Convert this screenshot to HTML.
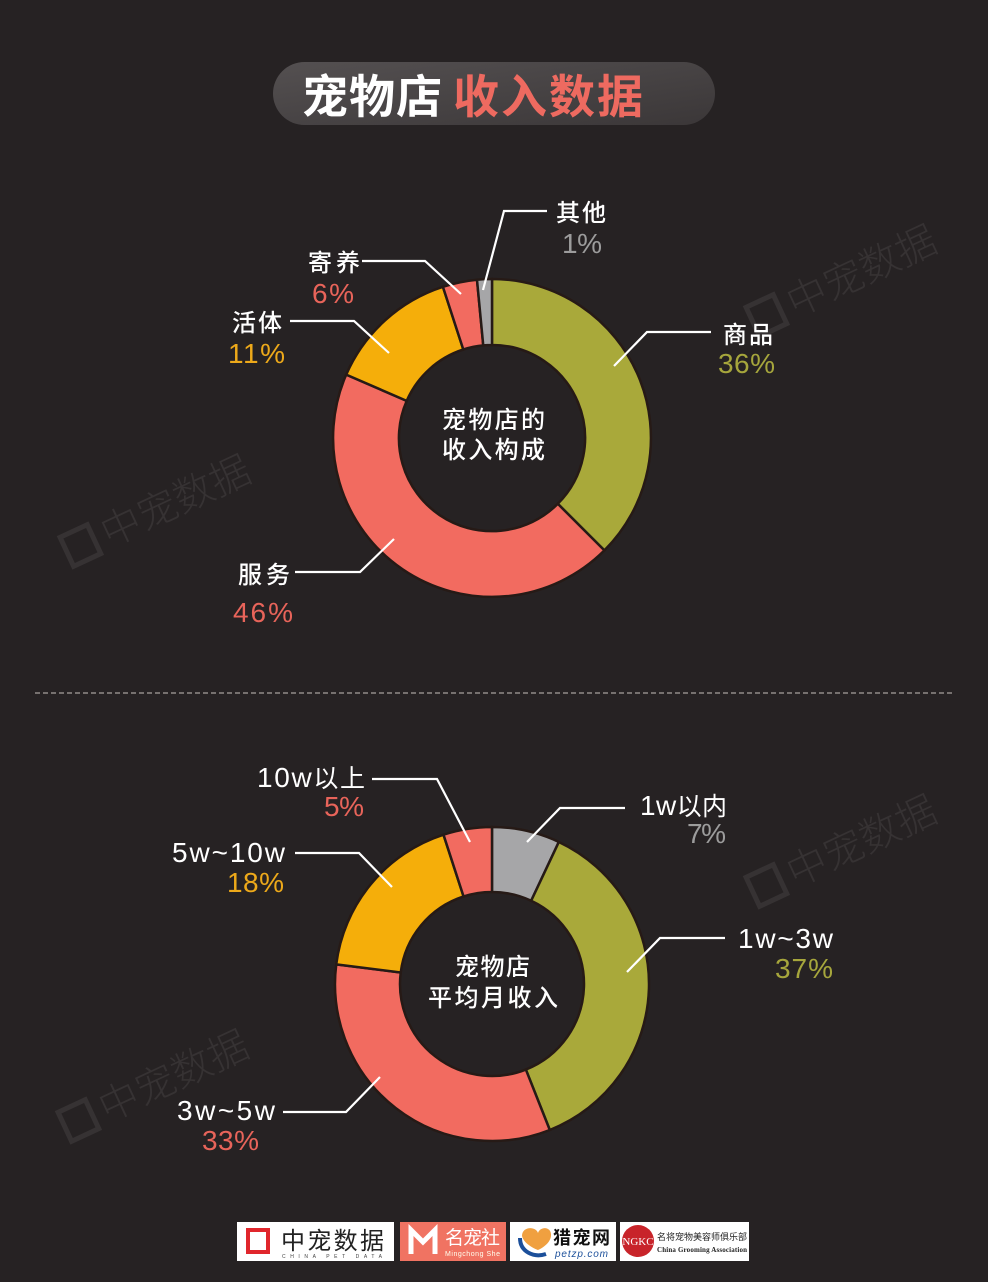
<!DOCTYPE html>
<html><head><meta charset="utf-8">
<style>
html,body{margin:0;padding:0;background:#262223;}
svg{display:block;}
.lbl{font-family:"Liberation Sans","Noto Sans CJK SC",sans-serif;font-weight:500;fill:#ffffff;font-size:24px;}
.lbw{font-family:"Liberation Sans","Noto Sans CJK SC",sans-serif;fill:#ffffff;font-size:28px;}
.pct{font-family:"Liberation Sans","Noto Sans CJK SC",sans-serif;font-size:28px;}
.ctr{font-family:"Liberation Sans","Noto Sans CJK SC",sans-serif;font-weight:500;fill:#ffffff;font-size:24px;}
.wm{font-family:"Noto Sans CJK SC",sans-serif;font-weight:300;fill:#363233;font-size:40px;}
</style></head>
<body>
<svg width="988" height="1282" viewBox="0 0 988 1282" xmlns="http://www.w3.org/2000/svg">
<defs>
<linearGradient id="pill" x1="0" y1="0" x2="1" y2="1">
<stop offset="0" stop-color="#545051"/><stop offset="1" stop-color="#3b3738"/>
</linearGradient>
</defs>
<rect width="988" height="1282" fill="#262223"/>

<!-- watermarks -->
<g transform="translate(846,285) rotate(-25)">
<rect x="-100" y="-22" width="30" height="32" fill="none" stroke="#363233" stroke-width="5"/>
<text class="wm" x="-60" y="8" textLength="160">中宠数据</text>
</g>
<g transform="translate(160,515) rotate(-25)">
<rect x="-100" y="-22" width="30" height="32" fill="none" stroke="#363233" stroke-width="5"/>
<text class="wm" x="-60" y="8" textLength="160">中宠数据</text>
</g>
<g transform="translate(846,855) rotate(-25)">
<rect x="-100" y="-22" width="30" height="32" fill="none" stroke="#363233" stroke-width="5"/>
<text class="wm" x="-60" y="8" textLength="160">中宠数据</text>
</g>
<g transform="translate(158,1090) rotate(-25)">
<rect x="-100" y="-22" width="30" height="32" fill="none" stroke="#363233" stroke-width="5"/>
<text class="wm" x="-60" y="8" textLength="160">中宠数据</text>
</g>

<!-- title -->
<rect x="273" y="62" width="442" height="63" rx="31.5" fill="url(#pill)"/>
<text x="302" y="113" font-family="'Liberation Sans','Noto Sans CJK SC',sans-serif" font-weight="700" font-size="46" fill="#ffffff" textLength="140">宠物店</text>
<text x="453" y="113" font-family="'Liberation Sans','Noto Sans CJK SC',sans-serif" font-weight="700" font-size="46" fill="#ee6a60" textLength="190">收入数据</text>

<!-- chart 1 -->
<g stroke="#261a16" stroke-width="2.5" stroke-linejoin="round">
<path d="M492,279 A159,159 0 0 1 604.4,550.4 L557.8,503.8 A93,93 0 0 0 492,345 Z" fill="#a9a93a"/>
<path d="M604.4,550.4 A159,159 0 0 1 346.2,374.6 L406.7,400.9 A93,93 0 0 0 557.8,503.8 Z" fill="#f26b60"/>
<path d="M346.2,374.6 A159,159 0 0 1 442.9,286.8 L463.3,349.5 A93,93 0 0 0 406.7,400.9 Z" fill="#f5ae0a"/>
<path d="M442.9,286.8 A159,159 0 0 1 477.0,279.7 L483.25,345.4 A93,93 0 0 0 463.3,349.5 Z" fill="#f26b60"/>
<path d="M477.0,279.7 A159,159 0 0 1 492,279 L492,345 A93,93 0 0 0 483.25,345.4 Z" fill="#a6a6a8"/>
</g>
<g fill="none" stroke="#ffffff" stroke-width="2.2">
<polyline points="483,290 504,211 547,211"/>
<polyline points="362,261 425,261 461,294"/>
<polyline points="290,321 354,321 389,353"/>
<polyline points="614,366 647,332 711,332"/>
<polyline points="295,572 360,572 394,539"/>
</g>
<text class="lbl" x="556" y="221" textLength="50">其他</text>
<text class="pct" x="562" y="253" fill="#9c9c9c" textLength="40">1%</text>
<text class="lbl" x="308" y="271" textLength="52">寄养</text>
<text class="pct" x="312" y="303" fill="#e8645a" textLength="42">6%</text>
<text class="lbl" x="232" y="331" textLength="50">活体</text>
<text class="pct" x="228" y="363" fill="#eda91a" textLength="57">11%</text>
<text class="lbl" x="723" y="343" textLength="50">商品</text>
<text class="pct" x="718" y="373" fill="#a6a63c" textLength="57">36%</text>
<text class="lbl" x="238" y="583" textLength="52">服务</text>
<text class="pct" x="233" y="622" fill="#e8645a" textLength="60">46%</text>
<text class="ctr" x="442" y="428" textLength="103">宠物店的</text>
<text class="ctr" x="442" y="458" textLength="103">收入构成</text>

<!-- divider -->
<line x1="35" y1="693" x2="952" y2="693" stroke="#76716f" stroke-width="2" stroke-dasharray="5,3"/>

<!-- chart 2 -->
<g stroke="#261a16" stroke-width="2.5" stroke-linejoin="round">
<path d="M492,827 A157,157 0 0 1 558.85,841.95 L531.17,900.76 A92,92 0 0 0 492,892 Z" fill="#a6a6a8"/>
<path d="M558.85,841.95 A157,157 0 0 1 549.8,1129.98 L525.87,1069.54 A92,92 0 0 0 531.17,900.76 Z" fill="#a9a93a"/>
<path d="M549.8,1129.98 A157,157 0 0 1 336.24,964.33 L400.73,972.47 A92,92 0 0 0 525.87,1069.54 Z" fill="#f26b60"/>
<path d="M336.24,964.33 A157,157 0 0 1 443.49,834.68 L463.57,896.5 A92,92 0 0 0 400.73,972.47 Z" fill="#f5ae0a"/>
<path d="M443.49,834.68 A157,157 0 0 1 492,827 L492,892 A92,92 0 0 0 463.57,896.5 Z" fill="#f26b60"/>
</g>
<g fill="none" stroke="#ffffff" stroke-width="2.2">
<polyline points="372,779 437,779 470,842"/>
<polyline points="527,842 560,808 625,808"/>
<polyline points="295,853 359,853 392,887"/>
<polyline points="627,972 660,938 725,938"/>
<polyline points="283,1112 346,1112 380,1077"/>
</g>
<text class="lbw" x="257" y="787" textLength="108">10w<tspan font-size="25">以上</tspan></text>
<text class="pct" x="324" y="816" fill="#e8645a" textLength="40">5%</text>
<text class="lbw" x="172" y="862" textLength="113">5w~10w</text>
<text class="pct" x="227" y="892" fill="#eda91a" textLength="57">18%</text>
<text class="lbw" x="640" y="815" textLength="87">1w<tspan font-size="25">以内</tspan></text>
<text class="pct" x="687" y="843" fill="#9c9c9c" textLength="39">7%</text>
<text class="lbw" x="738" y="948" textLength="95">1w~3w</text>
<text class="pct" x="775" y="978" fill="#a6a63c" textLength="58">37%</text>
<text class="lbw" x="177" y="1120" textLength="98">3w~5w</text>
<text class="pct" x="202" y="1150" fill="#e8645a" textLength="57">33%</text>
<text class="ctr" x="455" y="975" textLength="75">宠物店</text>
<text class="ctr" x="428" y="1006" textLength="130">平均月收入</text>

<!-- logos -->
<rect x="237" y="1222" width="157" height="39" fill="#ffffff"/>
<rect x="248" y="1230" width="20" height="22" fill="none" stroke="#e0262c" stroke-width="4"/>
<text x="281" y="1249" font-family="'Noto Sans CJK SC',sans-serif" font-size="24" fill="#222" textLength="103">中宠数据</text>
<text x="282" y="1258" font-family="'Liberation Sans',sans-serif" font-size="5" fill="#444" textLength="100">CHINA PET DATA</text>

<rect x="400" y="1222" width="106" height="39" fill="#f07362"/>
<path d="M411,1254 L411,1230 L423,1242 L435,1230 L435,1254" fill="none" stroke="#ffffff" stroke-width="5"/>
<text x="445" y="1244" font-family="'Noto Sans CJK SC',sans-serif" font-size="19" fill="#ffffff" textLength="55">名宠社</text>
<text x="445" y="1256" font-family="'Liberation Sans',sans-serif" font-size="7" fill="#ffe" textLength="55">Mingchong She</text>

<rect x="510" y="1222" width="106" height="39" fill="#ffffff"/>
<path d="M522,1236 C522,1226 536,1226 538,1233 C540,1226 552,1226 551,1236 C550,1245 538,1250 538,1250 C538,1250 524,1245 522,1236 Z" fill="#f0a040"/>
<path d="M520,1238 C520,1252 534,1258 546,1254" fill="none" stroke="#1b4f9a" stroke-width="4"/>
<text x="553" y="1244" font-family="'Noto Sans CJK SC',sans-serif" font-weight="700" font-size="18" fill="#111" textLength="57">猎宠网</text>
<text x="555" y="1257" font-family="'Liberation Sans',sans-serif" font-style="italic" font-size="10" fill="#1b4f9a" textLength="53">petzp.com</text>

<rect x="620" y="1222" width="129" height="39" fill="#ffffff"/>
<circle cx="638" cy="1241" r="16" fill="#c8242a"/>
<text x="638" y="1245" text-anchor="middle" font-family="'Liberation Serif',serif" font-size="11" fill="#ffffff">NGKC</text>
<text x="657" y="1240" font-family="'Noto Sans CJK SC',sans-serif" font-size="9" fill="#222" textLength="90">名将宠物美容师俱乐部</text>
<text x="657" y="1252" font-family="'Liberation Serif',serif" font-weight="700" font-size="7" fill="#222" textLength="90">China Grooming Association</text>
</svg>
</body></html>
